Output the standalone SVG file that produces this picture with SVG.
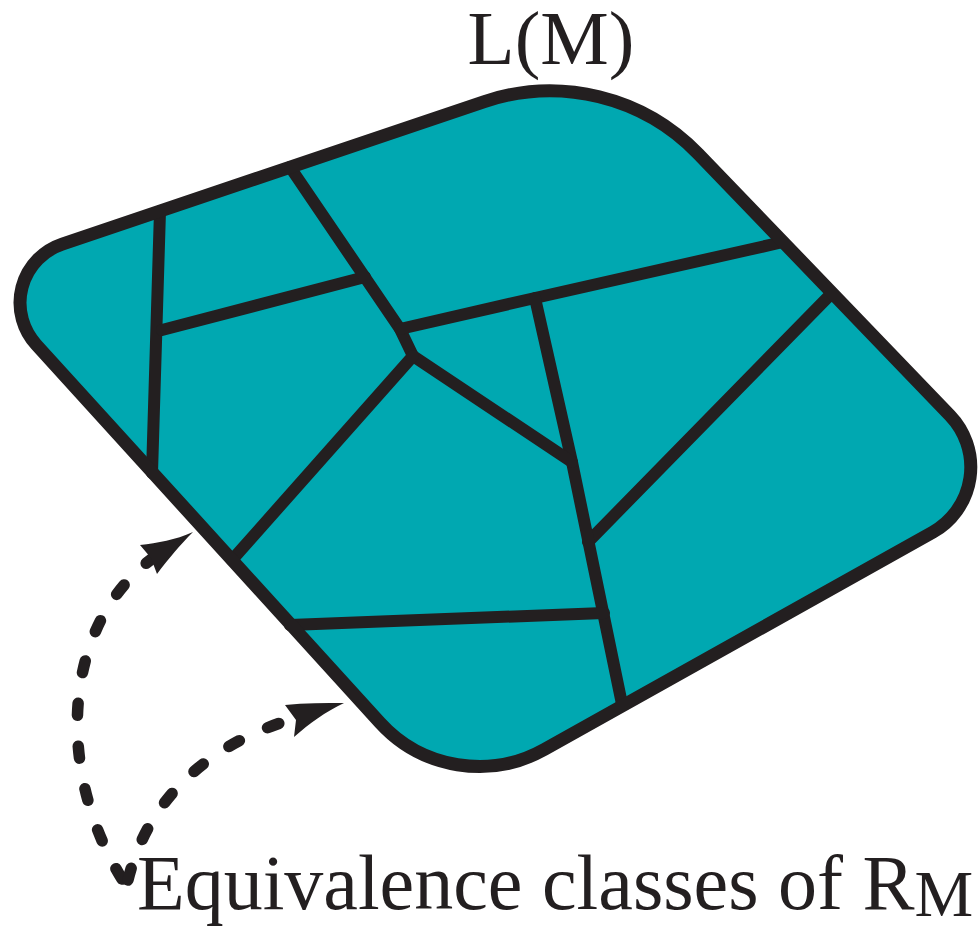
<svg xmlns="http://www.w3.org/2000/svg" width="980" height="928" viewBox="0 0 980 928">
  <style>
    .region { fill: #00A8B1; stroke: none; }
    .outline { fill: none; stroke: #231F20; stroke-width: 13; stroke-linejoin: round; }
    .part { fill: none; stroke: #231F20; stroke-width: 12; stroke-linecap: round; stroke-linejoin: miter; }
    .dash { fill: none; stroke: #231F20; stroke-width: 11.5; stroke-linecap: round; stroke-dasharray: 12 31; }
    .head { fill: #231F20; stroke: none; }
    .lbl { font-family: "Liberation Serif", "Times New Roman", serif; fill: #231F20; }
  </style>
  <defs>
    <path id="shape" d="M 62.2 244.1 L 484.4 101.6 A 206 206 0 0 1 698.4 154 L 950 415.4 A 74.7 74.7 0 0 1 932.9 532.1 L 544.5 749.4 A 134 134 0 0 1 379.9 722.6 L 36.1 344.5 A 62 62 0 0 1 62.2 244.1 Z"/>
  </defs>

  <g id="LM-set">
    <use href="#shape" class="region"/>
    <g id="partition">
      <polyline class="part" points="160,211 152,473"/>
      <polyline class="part" points="162,330 365,277"/>
      <polyline class="part" points="290,167 400,329 413,356"/>
      <polyline class="part" points="400,329 535,298 783,242"/>
      <polyline class="part" points="832,293 588,542"/>
      <polyline class="part" points="535,298 572,462 622,704"/>
      <polyline class="part" points="413,356 572,462"/>
      <polyline class="part" points="413,356 232,560"/>
      <polyline class="part" points="290,625 604,613"/>
    </g>
    <use href="#shape" class="outline"/>
  </g>

  <g id="title">
    <text class="lbl" x="551" y="64" font-size="77" text-anchor="middle">L(M)</text>
  </g>

  <g id="caption">
    <text class="lbl" x="137" y="909" font-size="78">Equivalence classes of R<tspan font-size="66" dy="7">M</tspan></text>
  </g>

  <g id="connectors">
    <path class="dash" d="M 122 879 C 55 770, 60 620, 160 553"/>
    <path class="head" d="M 193 532 C 175 540 158 543 140 545 L 151 558 L 157 574 C 170 557 180 545 193 532 Z"/>
    <path class="dash" d="M 128 880 C 150 790, 220 740, 296 718"/>
    <path class="head" d="M 344 703 C 325 703 305 703 285 705 L 296 720 L 294 737 C 310 723 325 712 344 703 Z"/>
  </g>
</svg>
